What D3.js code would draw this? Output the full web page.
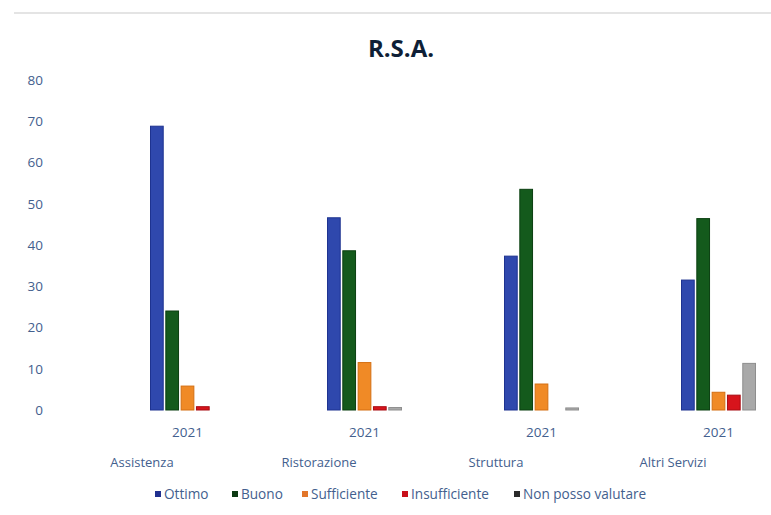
<!DOCTYPE html>
<html>
<head>
<meta charset="utf-8">
<script src="https://cdn.jsdelivr.net/npm/d3@7"></script>
<style>
  html, body { margin: 0; padding: 0; background: #fff; }
  svg { display: block; }
</style>
</head>
<body>
<div id="chart"></div>
<script>
// Satisfaction survey for the R.S.A. services, 2021 (percentages)
const categories = ["Assistenza", "Ristorazione", "Struttura", "Altri Servizi"];
const yearLabel = "2021";
const series = ["Ottimo", "Buono", "Sufficiente", "Insufficiente", "Non posso valutare"];
const ottimo        = [68.8, 46.6, 37.3, 31.5];
const buono         = [24.0, 38.6, 53.5, 46.4];
const sufficiente   = [5.8, 11.5, 6.3, 4.3];
const insufficiente = [0.8, 0.8, 0, 3.6];
const nonPosso      = [0, 0.6, 0.5, 11.3];
const yTicks = [0, 10, 20, 30, 40, 50, 60, 70, 80];

const values = [ottimo, buono, sufficiente, insufficiente, nonPosso];
const barColors    = ["#2f48ad", "#145a1c", "#f08a26", "#d7141c", "#a9a9a9"];
const barStrokes   = ["#1e3390", "#0b3f10", "#d46f12", "#a80c12", "#8e8e8e"];
const legendColors = ["#20308f", "#0c3a12", "#e2762a", "#c8101a", "#2a2a2a"];

const W = 771, H = 515;
const textColor = "#43608e";
const font = "'Open Sans', 'Noto Sans', sans-serif";

const svg = d3.select("#chart").append("svg")
  .attr("width", W).attr("height", H);

// faint border line at the top
svg.append("line")
  .attr("x1", 14).attr("x2", W).attr("y1", 13).attr("y2", 13)
  .attr("stroke", "#e4e4e4").attr("stroke-width", 2);

// title
svg.append("text")
  .attr("x", 401).attr("y", 57)
  .attr("text-anchor", "middle")
  .attr("font-family", font).attr("font-weight", 700)
  .attr("font-size", 24).attr("fill", "#0f1f36")
  .text("R.S.A.");

// scales
const y = d3.scaleLinear().domain([0, 80]).range([410, 80]);
const x0 = d3.scaleBand().domain(categories).range([99, 807]).padding(0);
const groupW = 74;
const x1 = d3.scaleBand().domain(series).range([-groupW / 2, groupW / 2]).paddingInner(0.17);

// y axis labels
const yAxis = d3.axisLeft(y).tickValues(yTicks).tickSize(0).tickPadding(0);
const gy = svg.append("g").attr("transform", "translate(43,0)").call(yAxis);
gy.select(".domain").remove();
gy.selectAll("text")
  .attr("font-family", font).attr("font-size", 13.5)
  .attr("fill", textColor);

// bars
const groups = svg.append("g").selectAll("g")
  .data(categories)
  .join("g")
  .attr("transform", d => `translate(${x0(d) + x0.bandwidth() / 2},0)`);

groups.selectAll("rect")
  .data((c, ci) => series.map((s, si) => ({ s, si, v: values[si][ci] })))
  .join("rect")
  .attr("x", d => x1(d.s))
  .attr("width", x1.bandwidth())
  .attr("y", d => y(d.v))
  .attr("height", d => y(0) - y(d.v))
  .attr("fill", d => barColors[d.si])
  .attr("stroke", d => d.v > 0 ? barStrokes[d.si] : "none")
  .attr("stroke-width", 1);

// x axis: year under each group, category below
const xAxis = d3.axisBottom(x0).tickSize(0).tickPadding(0).tickFormat(() => yearLabel);
const gx = svg.append("g").attr("transform", "translate(0,437)").call(xAxis);
gx.select(".domain").remove();
gx.selectAll("text")
  .attr("dy", 0)
  .attr("font-family", font).attr("font-size", 13.5)
  .attr("fill", textColor);

svg.append("g").selectAll("text")
  .data(categories)
  .join("text")
  .attr("x", d => x0(d) + 43)
  .attr("y", 467)
  .attr("text-anchor", "middle")
  .attr("font-family", font).attr("font-size", 13)
  .attr("fill", textColor)
  .text(d => d);

// legend
const legendX = [155, 232, 302, 402, 514];
const legend = svg.append("g").selectAll("g")
  .data(series)
  .join("g")
  .attr("transform", (d, i) => `translate(${legendX[i]},491)`);
legend.append("rect")
  .attr("width", 6).attr("height", 6)
  .attr("fill", (d, i) => legendColors[i]);
legend.append("text")
  .attr("x", 9).attr("y", 8)
  .attr("font-family", font).attr("font-size", 13.6)
  .attr("fill", textColor)
  .text(d => d);
</script>
</body>
</html>
